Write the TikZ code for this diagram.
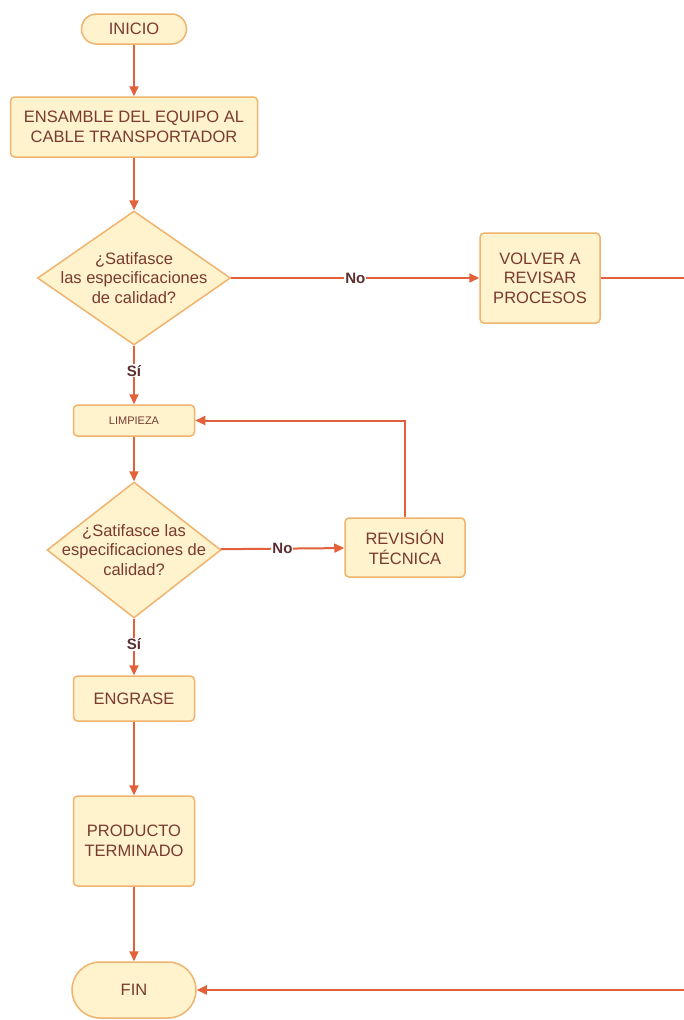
\documentclass[tikz,border=0pt]{standalone}
\usepackage{fontspec}
\setmainfont{Liberation Sans}
\usepackage{tikz}
\usetikzlibrary{arrows.meta, shapes.geometric}
\definecolor{crema}{HTML}{FEF3CD}
\definecolor{borde}{HTML}{F0B46E}
\definecolor{linea}{HTML}{E2603A}
\definecolor{texto}{HTML}{7A3A30}
\definecolor{etiq}{HTML}{5C2E2E}
\tikzset{caja/.style={rectangle, rounded corners=4pt, draw=borde, fill=crema, line width=1.5pt,
        text=texto, align=center, inner sep=0pt, font=\fontsize{16.5}{19.5}\selectfont},
    terminal/.style={caja, rounded corners=#1},
    decision/.style={diamond, draw=borde, fill=crema, line width=1.5pt, inner sep=0pt},
    pregunta/.style={text=texto, align=center, inner sep=0pt, font=\fontsize{16.5}{19.5}\selectfont},
    flujo/.style={draw=linea, line width=2pt, -{Triangle[length=10pt,width=9pt]}},
    rama/.style={fill=white, text=etiq, inner sep=1pt, font=\fontsize{15}{17}\selectfont\bfseries}}

\begin{document}
\begin{tikzpicture}[x=1pt, y=-1pt]
\useasboundingbox[fill=white] (0,0) rectangle (683,1020);

\node[terminal=15pt, minimum width=105pt, minimum height=30pt] (inicio) at (134,29) {INICIO};
\node[caja, minimum width=247pt, minimum height=60pt] (ensamble) at (134,127) {ENSAMBLE DEL EQUIPO AL\\CABLE TRANSPORTADOR};
\node[decision, minimum width=193pt, minimum height=134pt] (q1) at (134,278) {};
\node[pregunta] (q1t) at (q1) {¿Satifasce\\las especificaciones\\de calidad?};
\node[caja, minimum width=120pt, minimum height=90pt] (volver) at (540,278) {VOLVER A\\REVISAR\\PROCESOS};
\node[caja, minimum width=121pt, minimum height=31pt, font=\fontsize{11}{13}\selectfont] (limpieza) at (134,420.5) {LIMPIEZA};
\node[decision, minimum width=174pt, minimum height=136pt] (q2) at (134,550) {};
\node[pregunta] (q2t) at (q2) {¿Satifasce las\\especificaciones de\\calidad?};
\node[caja, minimum width=120pt, minimum height=59pt] (revision) at (405,547.5) {REVISIÓN\\TÉCNICA};
\node[caja, minimum width=121pt, minimum height=45pt] (engrase) at (134,698.5) {ENGRASE};
\node[caja, minimum width=121pt, minimum height=90pt] (producto) at (134,841) {PRODUCTO\\TERMINADO};
\node[terminal=28pt, minimum width=124pt, minimum height=56pt] (fin) at (134,990) {FIN};
\coordinate (derecha) at (690,278);

\draw[flujo] (inicio) -- (ensamble);
\draw[flujo] (ensamble) -- (q1);
\draw[flujo] (q1) -- node[rama] {No} (volver);
\draw[flujo] (q1) -- node[rama, pos=0.43] {Sí} (limpieza);
\draw[flujo] (limpieza) -- (q2);
\draw[flujo] (q2) -- node[rama] {No} (revision);
\draw[flujo] (revision.north) |- (limpieza.east);
\draw[flujo] (q2) -- node[rama, pos=0.45] {Sí} (engrase);
\draw[flujo] (engrase) -- (producto);
\draw[flujo] (producto) -- (fin);
\draw[flujo] (volver) -- (derecha) |- (fin);

\end{tikzpicture}
\end{document}
